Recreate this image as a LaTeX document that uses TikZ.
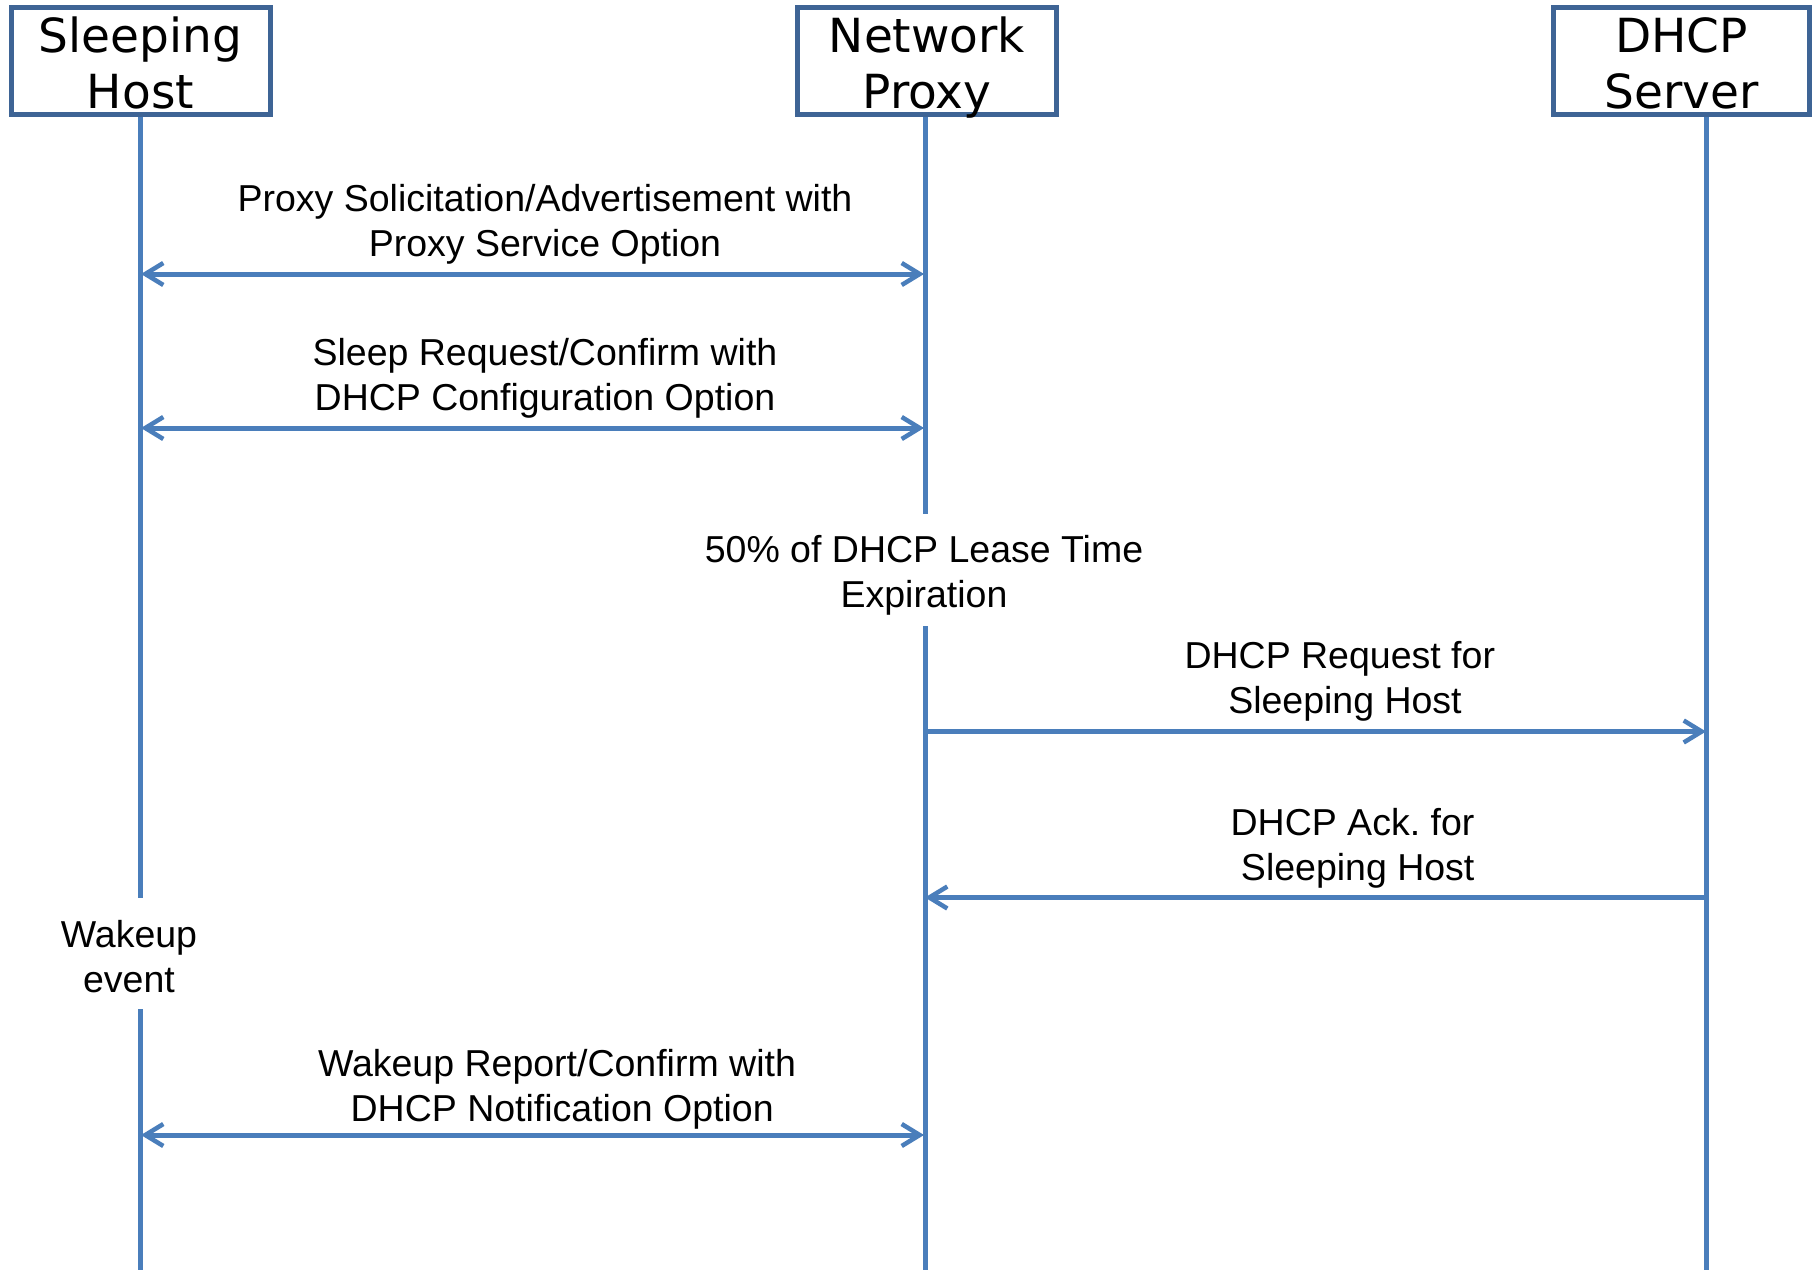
\documentclass[tikz,border=0pt]{standalone}
\usepackage{fontspec}
\setmainfont{Liberation Sans}
\newfontfamily\hdrfont{DejaVu Sans}
\usetikzlibrary{arrows.meta}
\definecolor{boxblue}{HTML}{3E6495}
\definecolor{lineblue}{HTML}{4A7EBB}
\newcommand\hdrstrut{\rule{0pt}{40.3pt}}
\frenchspacing
\begin{document}
\begin{tikzpicture}[x=1pt,y=-1pt,
  hdrbox/.style={draw=boxblue,line width=5pt,fill=white,minimum height=107.5pt,inner sep=0pt,align=center,text depth=0pt,font=\hdrfont\fontsize{47}{56}\selectfont},
  lifeline/.style={draw=lineblue,line width=5pt},
  tipb/.tip={Straight Barb[length=18pt,width=22pt,line width=4.5pt]},
  msg/.style={draw=lineblue,line width=5pt,tipb-tipb},
  msgr/.style={draw=lineblue,line width=5pt,-tipb},
  lbl/.style={align=center,inner sep=0pt,text depth=0pt,font=\fontsize{37.5}{45}\selectfont}]
\useasboundingbox (0,0) rectangle (1818,1270);
\fill[white] (0,0) rectangle (1818,1270);
% lifeline coordinates
\coordinate (shT) at (140,114);
\coordinate (shG1) at (140,898);
\coordinate (shG2) at (140,1009);
\coordinate (shB) at (140,1270);
\coordinate (npT) at (925,114);
\coordinate (npG1) at (925,514);
\coordinate (npG2) at (925,626);
\coordinate (npB) at (925,1270);
\coordinate (dsT) at (1706,114);
\coordinate (dsB) at (1706,1270);
% lifelines
\draw[lifeline] (shT) -- (shG1);
\draw[lifeline] (shG2) -- (shB);
\draw[lifeline] (npT) -- (npG1);
\draw[lifeline] (npG2) -- (npB);
\draw[lifeline] (dsT) -- (dsB);
% header boxes
\node[hdrbox,minimum width=259pt] (sh) at (140.5,60.8) {\hdrstrut Sleeping\\Host};
\node[hdrbox,minimum width=259pt] (np) at (927,60.8) {\hdrstrut Network\\Proxy};
\node[hdrbox,minimum width=256pt] (ds) at (1681.5,60.8) {\hdrstrut DHCP\\Server};
% message coordinates
\coordinate (m1l) at (141,274);
\coordinate (m1r) at (924,274);
\coordinate (m2l) at (141,428);
\coordinate (m2r) at (924,428);
\coordinate (m3l) at (925,731.5);
\coordinate (m3r) at (1706,731.5);
\coordinate (m4l) at (925,897.5);
\coordinate (m4r) at (1706,897.5);
\coordinate (m5l) at (141,1135);
\coordinate (m5r) at (924,1135);
% messages
\draw[msg] (m1l) -- (m1r);
\draw[msg] (m2l) -- (m2r);
\draw[msgr] (m3l) -- (m3r);
\draw[msgr] (m4r) -- (m4l);
\draw[msg] (m5l) -- (m5r);
% labels
\node[lbl] (t1) at (545,220) {Proxy Solicitation/Advertisement with\\Proxy Service Option};
\node[lbl] (t2) at (545,374) {Sleep Request/Confirm with\\DHCP Configuration Option};
\node[lbl] (t3) at (924,571) {50\% of DHCP Lease Time\\Expiration};
\node[lbl] (t4) at (1345,677) {DHCP Request for\hspace*{0.278em}\\Sleeping Host};
\node[lbl] (t5) at (1352.5,844) {DHCP Ack. for\\\hspace*{0.278em}Sleeping Host};
\node[lbl] (t6) at (129,956) {Wakeup\\event};
\node[lbl] (t7) at (557,1085) {Wakeup Report/Confirm with\\\hspace*{0.278em}DHCP Notification Option};
\end{tikzpicture}
\end{document}
